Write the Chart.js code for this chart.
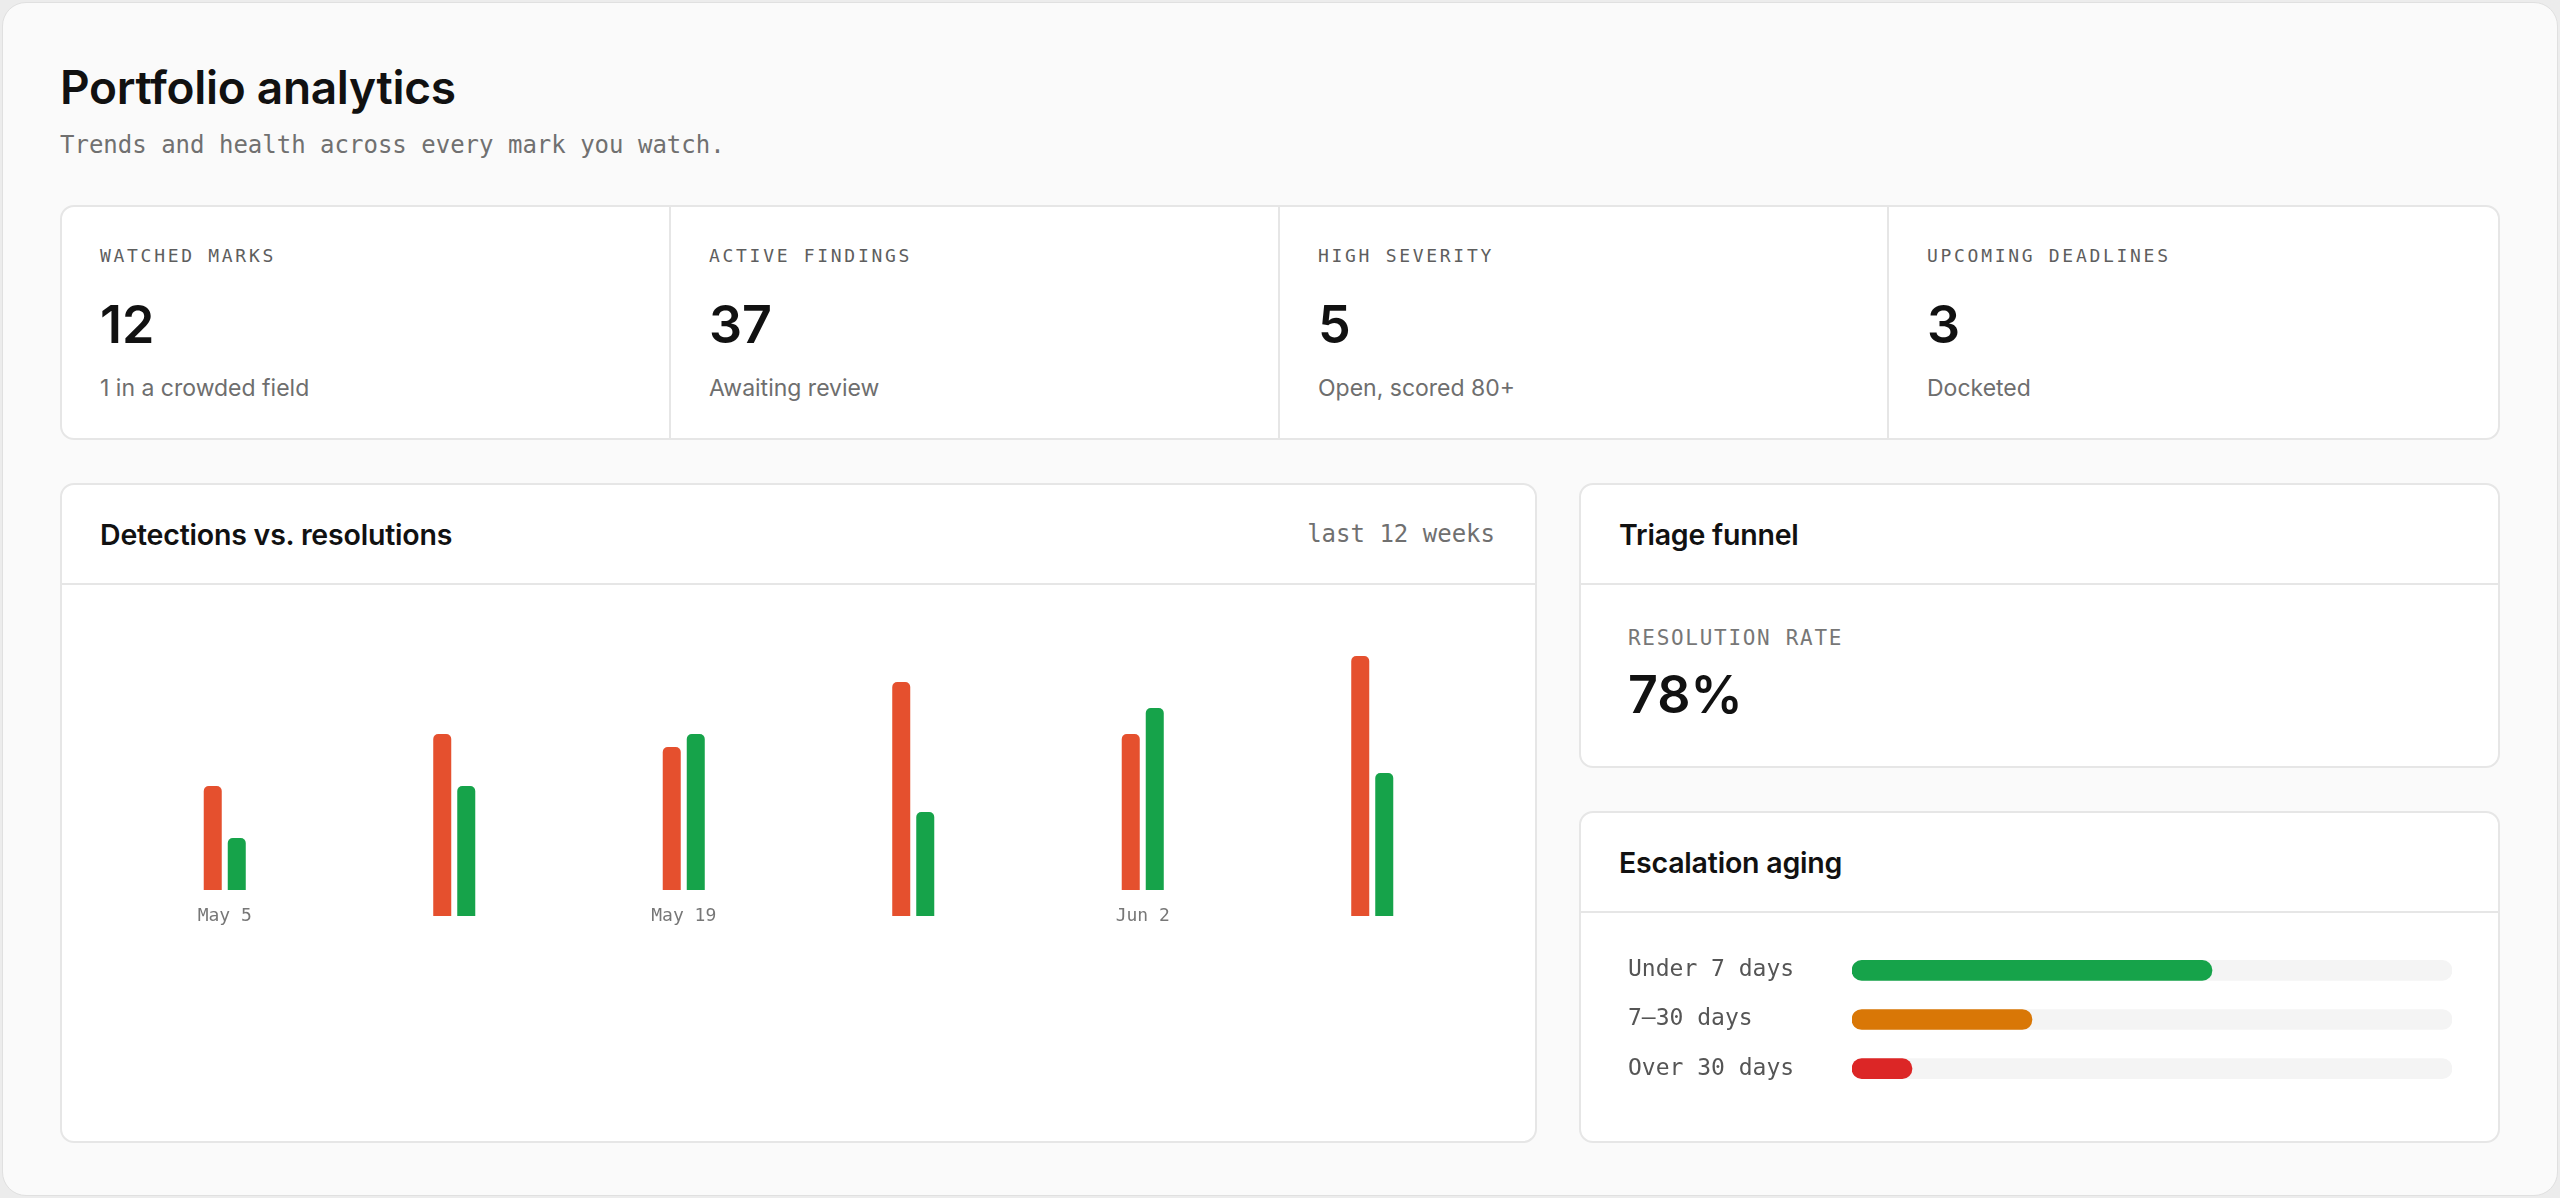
<!DOCTYPE html>
<html>
<head>
<meta charset="utf-8">
<title>Portfolio analytics</title>
<script src="https://cdn.jsdelivr.net/npm/chart.js@4.4.1/dist/chart.umd.min.js"></script>
<style>
  html, body { margin: 0; padding: 0; }
  body {
    width: 2560px; height: 1198px; overflow: hidden;
    background: #ececec;
    font-family: Inter, "Noto Sans", sans-serif;
    color: #111;
  }
  .page {
    position: absolute; left: 2px; top: 2px; right: 2px; bottom: 2px;
    border: 1px solid #e0e0e0; border-radius: 24px;
    background: #fafafa;
    padding: 56px 57px 0 57px;
  }
  h1 { margin: 0; font-size: 46px; line-height: 56px; font-weight: 600; letter-spacing: -0.3px; }
  .sub {
    margin-top: 16px; font-family: "DejaVu Sans Mono", monospace;
    font-size: 24px; line-height: 28px; color: #707070;
  }
  .mono { font-family: "DejaVu Sans Mono", monospace; }
  .card {
    background: #fff; border: 2px solid #e6e6e6; border-radius: 14px;
    box-sizing: border-box;
  }
  .stats {
    margin-top: 46px; height: 235px;
    display: grid; grid-template-columns: repeat(4, 1fr);
  }
  .stat { padding: 37px 38px 0 38px; border-right: 2px solid #e6e6e6; }
  .stat:last-child { border-right: none; }
  .stat .lbl { font-size: 18px; line-height: 24px; letter-spacing: 2.7px; color: #5e5e5e; }
  .stat .num { margin-top: 27px; font-size: 52px; line-height: 60px; font-weight: 600; }
  .stat .note { margin-top: 18px; font-size: 23px; line-height: 30px; color: #6e6e6e; }

  .row { margin-top: 43px; height: 660px; display: grid; grid-template-columns: 1477px 921px; column-gap: 42px; }
  .col { display: flex; flex-direction: column; gap: 43px; }
  .head {
    height: 98px; border-bottom: 2px solid #e6e6e6;
    display: flex; align-items: center; justify-content: space-between;
    padding: 0 40px 0 38px;
  }
  .head h2 { margin: 0; font-size: 28.5px; font-weight: 600; letter-spacing: -0.2px; }
  .head .range { font-size: 24px; color: #707070; }
  .trend-wrap { height: 292px; margin-top: 71px; padding: 0 48px; }
  .trend-wrap div { position: relative; height: 100%; }

  .triage { height: 285px; }
  .triage .body { padding: 40px 47px 0 47px; }
  .triage .lbl { font-size: 21px; line-height: 26px; letter-spacing: 1.7px; color: #777; }
  .triage .num { margin-top: 14px; font-size: 52px; line-height: 60px; font-weight: 600; }

  .aging { flex: 1; }
  .aging-wrap { height: 181px; margin-top: 16px; padding: 0 46px 0 47px; }
  .aging-wrap div { position: relative; height: 100%; }
</style>
</head>
<body>
<div class="page">
  <h1>Portfolio analytics</h1>
  <div class="sub">Trends and health across every mark you watch.</div>

  <div class="card stats">
    <div class="stat"><div class="lbl mono">WATCHED MARKS</div><div class="num">12</div><div class="note">1 in a crowded field</div></div>
    <div class="stat"><div class="lbl mono">ACTIVE FINDINGS</div><div class="num">37</div><div class="note">Awaiting review</div></div>
    <div class="stat"><div class="lbl mono">HIGH SEVERITY</div><div class="num">5</div><div class="note">Open, scored 80+</div></div>
    <div class="stat"><div class="lbl mono">UPCOMING DEADLINES</div><div class="num">3</div><div class="note">Docketed</div></div>
  </div>

  <div class="row">
    <div class="card">
      <div class="head"><h2>Detections vs. resolutions</h2><span class="range mono">last 12 weeks</span></div>
      <div class="trend-wrap"><div><canvas id="trendChart"></canvas></div></div>
    </div>
    <div class="col">
      <div class="card triage">
        <div class="head"><h2>Triage funnel</h2></div>
        <div class="body">
          <div class="lbl mono">RESOLUTION RATE</div>
          <div class="num">78%</div>
        </div>
      </div>
      <div class="card aging">
        <div class="head"><h2>Escalation aging</h2></div>
        <div class="aging-wrap"><div><canvas id="agingChart"></canvas></div></div>
      </div>
    </div>
  </div>
</div>

<script>
// weekly counts, one pair per week (every other week gets a tick label)
const weeks = ['May 5', 'May 12', 'May 19', 'May 26', 'Jun 2', 'Jun 9'];
const detections = [8, 14, 11, 18, 12, 20];
const resolutions = [4, 10, 12, 8, 14, 11];

// escalation aging, share of open escalations in %
const agingBuckets = ['Under 7 days', '7–30 days', 'Over 30 days'];
const agingShare = [60, 30, 10];
const agingColors = ['#16a34a', '#d97706', '#dc2626'];

const monoFont = "'DejaVu Sans Mono', monospace";

// labelled weeks sit on top of their label, so their bars start a bit higher
const LABEL_LIFT = 2;
const isLabelled = i => i % 2 === 0;
const lift = i => isLabelled(i) ? LABEL_LIFT : 0;
const floating = arr => arr.map((v, i) => [lift(i), lift(i) + v]);

new Chart(document.getElementById('trendChart'), {
    type: 'bar',
    data: {
        labels: weeks,
        datasets: [
            {
                label: 'Detections',
                data: floating(detections),
                backgroundColor: '#e5502e',
            },
            {
                label: 'Resolutions',
                data: floating(resolutions),
                backgroundColor: '#16a34a',
            },
        ]
    },
    options: {
        responsive: true,
        maintainAspectRatio: false,
        animation: false,
        layout: { padding: { top: 0, left: 0, right: 0, bottom: 20 } },
        datasets: {
            bar: {
                categoryPercentage: 0.2093,
                barPercentage: 0.75,
                borderRadius: { topLeft: 5, topRight: 5 },
                borderSkipped: false,
            }
        },
        plugins: {
            legend: { display: false },
            tooltip: { enabled: false },
        },
        scales: {
            x: {
                grid: { display: false, drawTicks: false },
                border: { display: false },
                afterFit: scale => { scale.height = 12; },
                ticks: {
                    color: '#777',
                    font: { family: monoFont, size: 18 },
                    mirror: true,   // no clipping to the axis box, label centred on the baseline
                    padding: -11,
                    maxRotation: 0,
                    autoSkip: false,
                    callback: function(val, i) { return isLabelled(i) ? weeks[i] : ''; },
                },
            },
            y: {
                display: false,
                min: 0,
                max: 20,
            }
        }
    }
});

new Chart(document.getElementById('agingChart'), {
    type: 'bar',
    data: {
        labels: agingBuckets,
        datasets: [
            {
                label: 'share',
                data: agingShare,
                backgroundColor: agingColors,
            },
            {
                label: 'track',
                data: agingBuckets.map(() => 100),
                backgroundColor: '#f4f4f4',
            },
        ]
    },
    options: {
        indexAxis: 'y',
        responsive: true,
        maintainAspectRatio: false,
        animation: false,
        layout: { padding: 0 },
        datasets: {
            bar: {
                grouped: false,
                barThickness: 20,
                borderRadius: 10,
                borderSkipped: false,
            }
        },
        plugins: {
            legend: { display: false },
            tooltip: { enabled: false },
        },
        scales: {
            x: { display: false, min: 0, max: 100 },
            y: {
                grid: { display: false, drawTicks: false },
                border: { display: false },
                afterFit: scale => { scale.width = 224; },
                ticks: {
                    crossAlign: 'far',
                    color: '#555',
                    font: { family: monoFont, size: 23 },
                },
            }
        }
    }
});
</script>
</body>
</html>
